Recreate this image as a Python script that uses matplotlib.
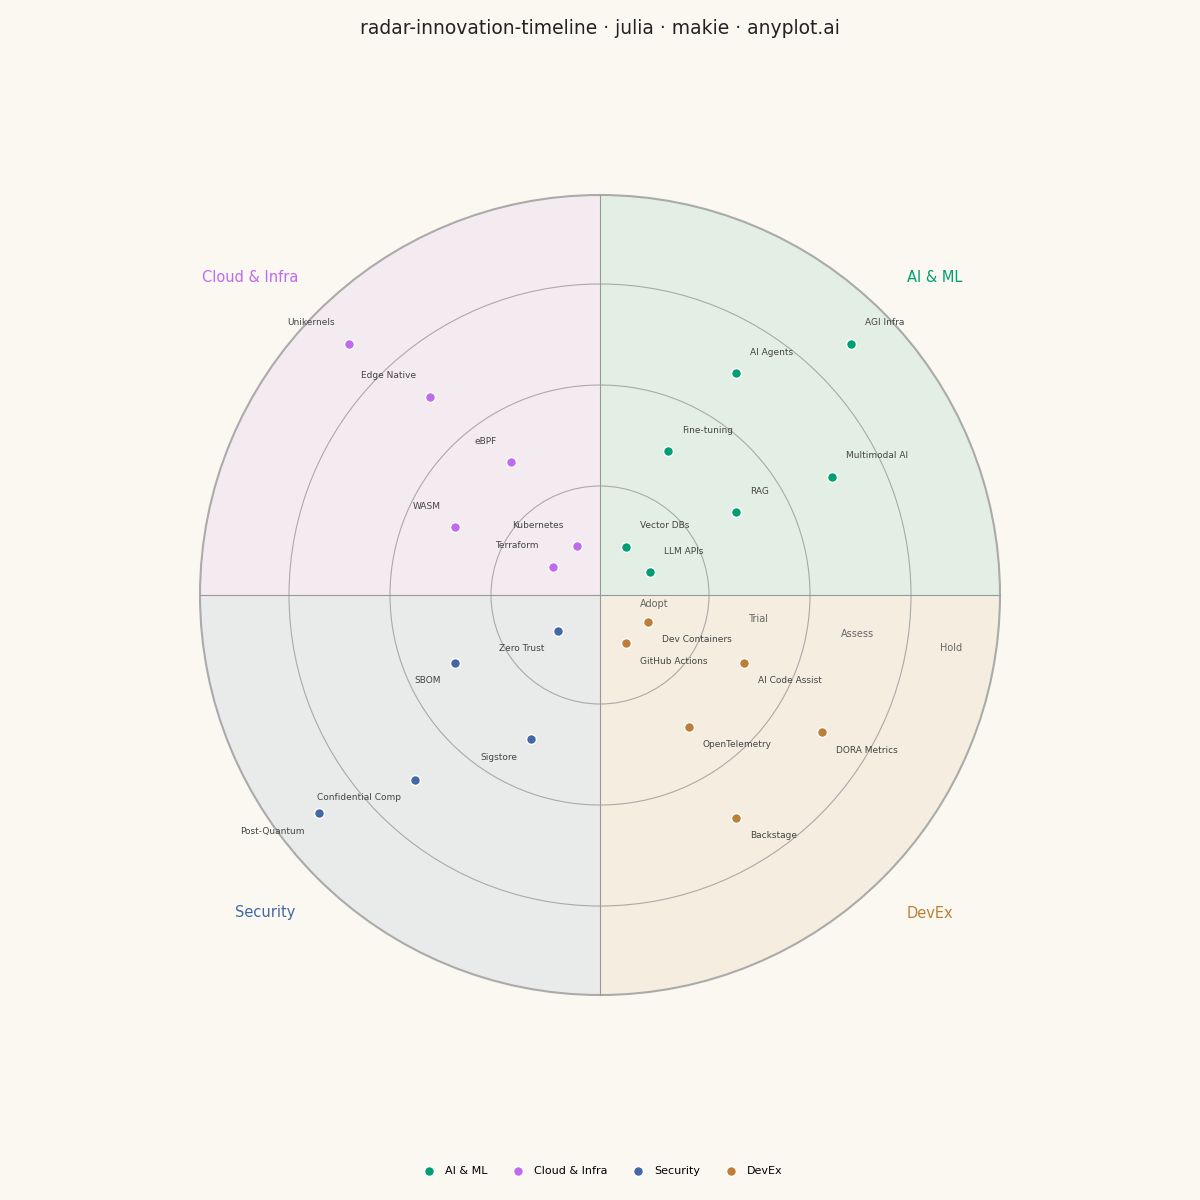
import numpy as np
import matplotlib.pyplot as plt
from matplotlib.patches import Wedge, Circle

# quadrants and their colours
quadrants = ['AI & ML', 'Cloud & Infra', 'Security', 'DevEx']
colors = ['#009E73', '#C06AF0', '#4467A5', '#BD7F35']
quad_start = [0, 90, 180, 270]

rings = ['Adopt', 'Trial', 'Assess', 'Hold']
ring_edges = [109, 210, 311, 400]

# blips: name, quadrant index, radius, angle (degrees)
blip_names = ['AGI Infra', 'AI Agents', 'Multimodal AI', 'Fine-tuning', 'RAG', 'Vector DBs', 'LLM APIs',
              'Unikernels', 'Edge Native', 'eBPF', 'WASM', 'Kubernetes', 'Terraform',
              'Zero Trust', 'SBOM', 'Sigstore', 'Confidential Comp', 'Post-Quantum',
              'Dev Containers', 'GitHub Actions', 'AI Code Assist', 'OpenTelemetry', 'DORA Metrics', 'Backstage']
blip_quad = [0, 0, 0, 0, 0, 0, 0,
             1, 1, 1, 1, 1, 1,
             2, 2, 2, 2, 2,
             3, 3, 3, 3, 3, 3]
blip_r = [355, 260, 260, 159, 159, 55, 55,
          355, 261, 160, 160, 54, 55,
          55, 160, 160, 261, 356,
          55, 55, 159, 159, 261, 261]
blip_ang = [45, 58.5, 27, 64.7, 31.4, 61.6, 24.7,
            135, 130.6, 124, 155, 115, 149,
            220.6, 205, 244.5, 225, 217.8,
            -29.4, -61.6, -25.3, -56, -31.7, -58.6]

bg = '#FAF8F1'
fig = plt.figure(figsize=(12, 12), dpi=100, facecolor=bg)
ax = fig.add_axes([0, 0, 1, 1])
ax.set_facecolor(bg)
ax.set_xlim(-600, 600)
ax.set_ylim(-605, 595)
ax.set_aspect('equal')
ax.axis('off')

for q in range(4):
    ax.add_patch(Wedge((0, 0), ring_edges[-1], quad_start[q], quad_start[q] + 90,
                       facecolor=colors[q], alpha=0.09, edgecolor='none'))
for r in ring_edges:
    ax.add_patch(Circle((0, 0), r, fill=False, edgecolor='#999999',
                        lw=1.5 if r == ring_edges[-1] else 0.8, alpha=0.8))
ax.plot([-400, 400], [0, 0], color='#999999', lw=0.8)
ax.plot([0, 0], [-400, 400], color='#999999', lw=0.8)

# ring labels
ring_lab_x = [54, 158, 257, 351]
ring_lab_y = [-9, -24, -39, -53]
for name, x, y in zip(rings, ring_lab_x, ring_lab_y):
    ax.text(x, y, name, fontsize=7, color='#666666', ha='center', va='center')

# quadrant labels
qx = [335, -350, -335, 330]
qy = [317, 317, -318, -318]
for name, c, x, y in zip(quadrants, colors, qx, qy):
    ax.text(x, y, name, fontsize=10.5, color=c, ha='center', va='center')

r = np.array(blip_r)
a = np.radians(blip_ang)
xs = r * np.cos(a)
ys = r * np.sin(a)
for q in range(4):
    idx = [i for i, b in enumerate(blip_quad) if b == q]
    ax.scatter(xs[idx], ys[idx], s=50, color=colors[q], edgecolor='white', lw=1, zorder=3, label=quadrants[q])
for i, name in enumerate(blip_names):
    right = xs[i] >= 0
    up = ys[i] >= 0
    ax.text(xs[i] + (14 if right else -14), ys[i] + (21 if up else -18), name, fontsize=6.5,
            color='#444444', ha='left' if right else 'right', va='center')

ax.text(0, 567, 'radar-innovation-timeline · julia · makie · anyplot.ai', fontsize=13.5,
        ha='center', va='center', color='#222222')
fig.legend(loc='lower center', bbox_to_anchor=(0.5, 0.012), ncol=4, frameon=False, fontsize=8,
           handletextpad=0.4, columnspacing=1.8)
fig.savefig('out.png', dpi=100, facecolor=bg)
